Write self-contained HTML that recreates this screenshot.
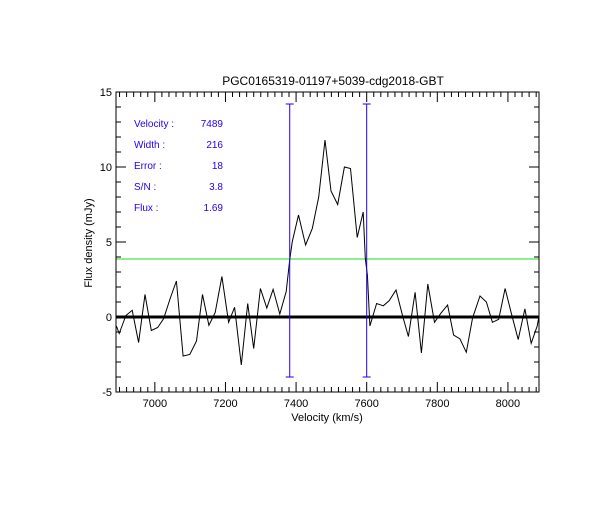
<!DOCTYPE html>
<html><head><meta charset="utf-8"><style>
body{margin:0;background:#fff;}
svg text{font-family:"Liberation Sans",sans-serif;}
</style></head><body>
<svg id="chart" width="612" height="500" xmlns="http://www.w3.org/2000/svg">
<rect width="612" height="500" fill="#fff"/>
<text x="333" y="85" font-size="12" text-anchor="middle">PGC0165319-01197+5039-cdg2018-GBT</text>
<g id="stats" fill="#2200ee" font-size="10">
<text x="134" y="127">Velocity :</text><text x="223" y="127" text-anchor="end">7489</text>
<text x="134" y="148">Width :</text><text x="223" y="148" text-anchor="end">216</text>
<text x="134" y="169">Error :</text><text x="223" y="169" text-anchor="end">18</text>
<text x="134" y="190">S/N :</text><text x="223" y="190" text-anchor="end">3.8</text>
<text x="134" y="211">Flux :</text><text x="223" y="211" text-anchor="end">1.69</text>
</g>
<text x="327" y="421" font-size="11" text-anchor="middle">Velocity (km/s)</text>
<text x="92" y="243" font-size="11" text-anchor="middle" transform="rotate(-90 92 243)">Flux density (mJy)</text>
</svg>
<script>
const velocities=[6891,6899,6918,6936,6954,6972,6990,7008,7025,7043,7061,7080,7099,7118,7135,7153,7171,7190,7209,7226,7245,7263,7280,7299,7317,7335,7354,7372,7382,7389,7407,7427,7446,7464,7482,7499,7518,7537,7554,7573,7590,7596,7602,7609,7628,7647,7664,7683,7702,7718,7737,7755,7773,7792,7810,7829,7846,7864,7882,7900,7921,7939,7956,7974,7992,8010,8029,8048,8066,8083,8088];
const fluxes=[-0.6,-1.1,0.1,0.45,-1.7,1.5,-0.9,-0.7,-0.1,1.2,2.4,-2.6,-2.5,-1.6,1.5,-0.55,0.3,2.7,-0.35,0.65,-3.2,0.9,-2.1,1.9,0.6,1.85,0.2,1.7,3.8,5.0,6.8,4.8,5.9,8.0,11.8,8.4,7.5,10.0,9.9,5.3,7.0,3.9,2.8,-0.6,0.9,0.75,1.1,1.8,0.05,-1.3,1.65,-2.4,2.2,-0.35,0.25,0.8,-1.2,-1.45,-2.35,-0.05,1.4,1.0,-0.35,-0.15,1.9,0.2,-1.5,0.55,-1.75,-0.6,0.05];
const xTicks=[7000,7200,7400,7600,7800,8000];
const yTicks=[-5,0,5,10,15];
const markerVel=[7382,7600];
const markerRange=[-4,14.2];
const threshold=3.87;

const X0=116,X1=539,Y0=92,Y1=392,VMIN=6890,VMAX=8088,FMIN=-5,FMAX=15;
const sx=v=>X0+(v-VMIN)/(VMAX-VMIN)*(X1-X0);
const sy=f=>Y1-(f-FMIN)/(FMAX-FMIN)*(Y1-Y0);
const svg=document.getElementById('chart');
const NS='http://www.w3.org/2000/svg';
function mk(tag,attrs){const e=document.createElementNS(NS,tag);for(const k in attrs)e.setAttribute(k,attrs[k]);svg.appendChild(e);return e;}

// ticks
for(let v=6900;v<=VMAX;v+=20){const x=sx(v);const major=v%200===0;const L=major?10:5;
 const t1=mk('line',{x1:x,y1:Y1,x2:x,y2:Y1-L,stroke:'#000','stroke-width':1});
 
 
 const t2=mk('line',{x1:x,y1:Y0,x2:x,y2:Y0+L,stroke:'#000','stroke-width':1});
 
 }
for(let f=FMIN;f<=FMAX;f+=1){const y=sy(f);const L=(f%5===0)?10:5;
 const t1=mk('line',{x1:X0,y1:y,x2:X0+L,y2:y,stroke:'#000','stroke-width':1});
 
 
 const t2=mk('line',{x1:X1,y1:y,x2:X1-L,y2:y,stroke:'#000','stroke-width':1});
 
 }
xTicks.forEach(v=>{const t=mk('text',{x:sx(v),y:Y1+15,'font-size':11,'text-anchor':'middle'});t.textContent=v;
 
 });
yTicks.forEach(f=>{const t=mk('text',{x:X0-4,y:sy(f)+4,'font-size':11,'text-anchor':'end'});t.textContent=f;
 
 });

// threshold line
const th=mk('line',{x1:X0,y1:sy(threshold),x2:X1,y2:sy(threshold),stroke:'#22dd22','stroke-width':1});


// zero line
const z=mk('line',{x1:X0,y1:sy(0),x2:X1,y2:sy(0),stroke:'#000','stroke-width':3});


// spectrum
const pts=velocities.map((v,i)=>sx(v).toFixed(1)+','+sy(fluxes[i]).toFixed(1)).join(' ');
const pl=mk('polyline',{points:pts,fill:'none',stroke:'#000','stroke-width':1});


// markers
markerVel.forEach(v=>{const x=sx(v);
 const l=mk('line',{x1:x,y1:sy(markerRange[0]),x2:x,y2:sy(markerRange[1]),stroke:'#2200ee','stroke-width':1});
 
 
 markerRange.forEach(f=>{const c=mk('line',{x1:x-4,y1:sy(f),x2:x+4,y2:sy(f),stroke:'#2200ee','stroke-width':1});
  
  });});
// frame
const fr=mk('rect',{x:X0,y:Y0,width:X1-X0,height:Y1-Y0,fill:'none',stroke:'#000','stroke-width':1});


</script>
</body></html>
